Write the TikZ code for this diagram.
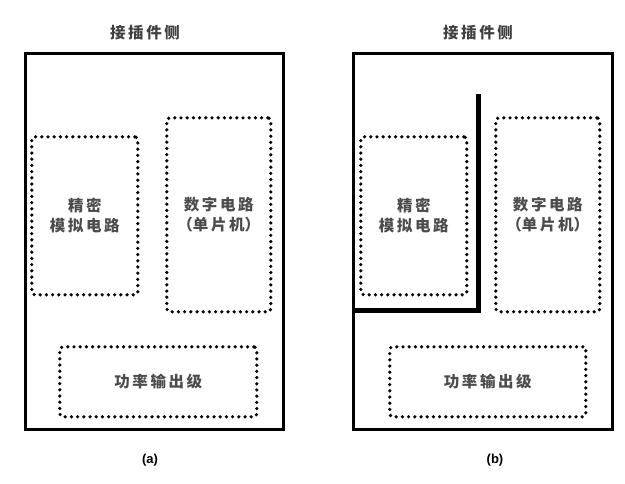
\documentclass[tikz,border=0pt]{standalone}
\usepackage{fontspec}
\setmainfont{Liberation Sans}
\newfontfamily\cjk{Noto Sans CJK SC}
\begin{document}
\begin{tikzpicture}[x=1pt,y=-1pt,
  outer/.style={draw=black,line width=3pt,inner sep=0pt,anchor=north west},
  dotbox/.style={draw=black,line width=3.6pt,dash pattern=on 0pt off 6.2pt,line cap=round,rounded corners=3pt,inner sep=0pt,anchor=north west,font=\cjk\bfseries\fontsize{15.5}{20}\selectfont,text=black!70,align=center},
  ttl/.style={font=\cjk\bfseries\fontsize{15.5}{18}\selectfont,text=black!75},
  lbl/.style={font=\bfseries\fontsize{13}{15}\selectfont},
  wall/.style={line width=5pt}]
\useasboundingbox (0,0) rectangle (625,483);
% panel (a)
\node[ttl] (ta) at (145,33) {接\,插\,件\,侧};
\node[outer,minimum width=258,minimum height=376] (oa) at (24,52) {};
\node[dotbox,minimum width=106,minimum height=158] (aa) at (30,135) {精\,密\\模\,拟\,电\,路};
\node[dotbox,minimum width=104,minimum height=194] (da) at (165,116) {数\,字\,电\,路\\（单\,片\,机）};
\node[dotbox,minimum width=197,minimum height=70] (pa) at (58,345) {功\,率\,输\,出\,级};
\node[lbl] (la) at (150,460) {(a)};
% panel (b)
\node[ttl] (tb) at (478,33) {接\,插\,件\,侧};
\node[outer,minimum width=259,minimum height=376] (ob) at (352,52) {};
\node[dotbox,minimum width=106,minimum height=158] (ab) at (359,135) {精\,密\\模\,拟\,电\,路};
\node[dotbox,minimum width=104,minimum height=194] (db) at (494,116) {数\,字\,电\,路\\（单\,片\,机）};
\node[dotbox,minimum width=196,minimum height=70] (pb) at (388,345) {功\,率\,输\,出\,级};
\node[lbl] (lb) at (495,460) {(b)};
\coordinate (wtop) at (478,94);
\coordinate (wcorner) at (478,310);
\draw[wall] (wtop) -- (wcorner) -- (wcorner -| ob.west);
\end{tikzpicture}
\end{document}
